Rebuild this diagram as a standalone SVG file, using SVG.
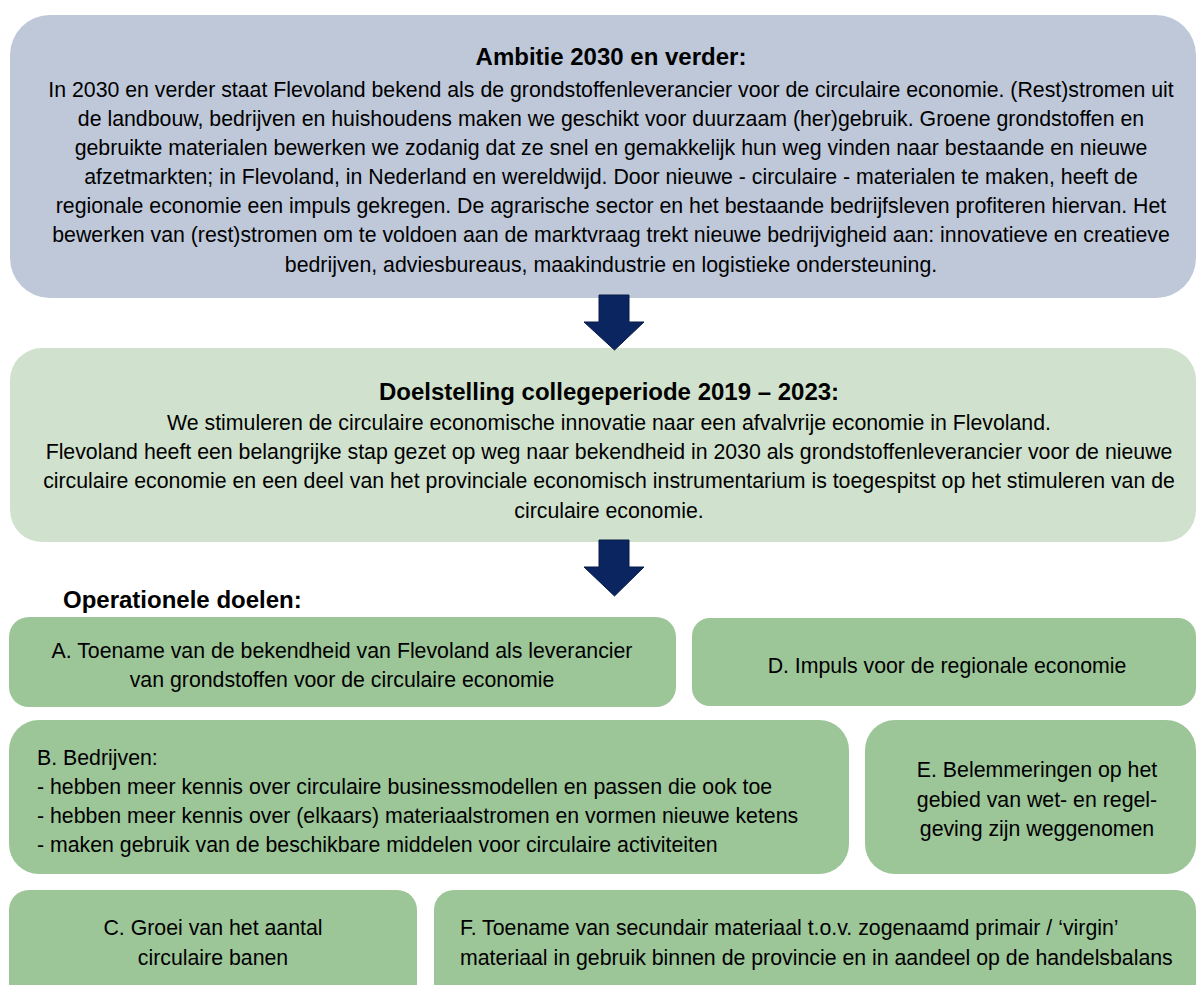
<svg xmlns="http://www.w3.org/2000/svg" width="1197" height="985" viewBox="0 0 1197 985">
<style>
text{font-family:"Liberation Sans",Arial,sans-serif;fill:#000;}
.b{font-size:21.3px;}
.t{font-size:24px;font-weight:bold;}
.c{text-anchor:middle;}
.blue{fill:#BEC8D9;}
.lg{fill:#D0E2CD;}
.g{fill:#9CC598;}
.arr{fill:#0A2560;stroke:#061A45;stroke-width:1;}
</style>
<rect width="1197" height="985" fill="#fff"/>
<g id="ambitie">
<rect class="blue" x="10" y="15" width="1186" height="283" rx="40"/>
<text class="t c" x="611" y="65">Ambitie 2030 en verder:</text>
<text class="b c" x="611" y="97">In 2030 en verder staat Flevoland bekend als de grondstoffenleverancier voor de circulaire economie. (Rest)stromen uit</text>
<text class="b c" x="611" y="126">de landbouw, bedrijven en huishoudens maken we geschikt voor duurzaam (her)gebruik. Groene grondstoffen en</text>
<text class="b c" x="611" y="155">gebruikte materialen bewerken we zodanig dat ze snel en gemakkelijk hun weg vinden naar bestaande en nieuwe</text>
<text class="b c" x="611" y="184">afzetmarkten; in Flevoland, in Nederland en wereldwijd. Door nieuwe - circulaire - materialen te maken, heeft de</text>
<text class="b c" x="611" y="213">regionale economie een impuls gekregen. De agrarische sector en het bestaande bedrijfsleven profiteren hiervan. Het</text>
<text class="b c" x="611" y="242">bewerken van (rest)stromen om te voldoen aan de marktvraag trekt nieuwe bedrijvigheid aan: innovatieve en creatieve</text>
<text class="b c" x="611" y="272">bedrijven, adviesbureaus, maakindustrie en logistieke ondersteuning.</text>
</g>
<g id="doelstelling">
<rect class="lg" x="10" y="348" width="1186" height="194" rx="32"/>
<text class="t c" x="609" y="400">Doelstelling collegeperiode 2019 – 2023:</text>
<text class="b c" x="609" y="430">We stimuleren de circulaire economische innovatie naar een afvalvrije economie in Flevoland.</text>
<text class="b c" x="609" y="459">Flevoland heeft een belangrijke stap gezet op weg naar bekendheid in 2030 als grondstoffenleverancier voor de nieuwe</text>
<text class="b c" x="609" y="488">circulaire economie en een deel van het provinciale economisch instrumentarium is toegespitst op het stimuleren van de</text>
<text class="b c" x="609" y="518">circulaire economie.</text>
</g>
<g id="operationele-label">
<text class="t" x="63" y="608">Operationele doelen:</text>
</g>
<g id="doel-a">
<rect class="g" x="9" y="617" width="667" height="90" rx="20"/>
<text class="b c" x="342" y="658">A. Toename van de bekendheid van Flevoland als leverancier</text>
<text class="b c" x="342" y="687">van grondstoffen voor de circulaire economie</text>
</g>
<g id="doel-d">
<rect class="g" x="692" y="618" width="504" height="88" rx="18"/>
<text class="b c" x="947" y="673">D. Impuls voor de regionale economie</text>
</g>
<g id="doel-b">
<rect class="g" x="9" y="720" width="840" height="154" rx="30"/>
<text class="b" x="37" y="765">B. Bedrijven:</text>
<text class="b" x="37" y="794">- hebben meer kennis over circulaire businessmodellen en passen die ook toe</text>
<text class="b" x="37" y="823">- hebben meer kennis over (elkaars) materiaalstromen en vormen nieuwe ketens</text>
<text class="b" x="37" y="852">- maken gebruik van de beschikbare middelen voor circulaire activiteiten</text>
</g>
<g id="doel-e">
<rect class="g" x="865" y="720" width="331" height="154" rx="30"/>
<text class="b c" x="1037" y="777">E. Belemmeringen op het</text>
<text class="b c" x="1037" y="807">gebied van wet- en regel-</text>
<text class="b c" x="1037" y="836">geving zijn weggenomen</text>
</g>
<g id="doel-c">
<rect class="g" x="9" y="890" width="408" height="115" rx="20"/>
<text class="b c" x="213" y="935">C. Groei van het aantal</text>
<text class="b c" x="213" y="965">circulaire banen</text>
</g>
<g id="doel-f">
<rect class="g" x="434" y="890" width="762" height="115" rx="20"/>
<text class="b" x="460" y="935">F. Toename van secundair materiaal t.o.v. zogenaamd primair / ‘virgin’</text>
<text class="b" x="460" y="965">materiaal in gebruik binnen de provincie en in aandeel op de handelsbalans</text>
</g>
<g id="connectors">
<path class="arr" d="M599,295 H629 V322 H644 L614.5,350 L584,322 H599 Z"/>
<path class="arr" d="M599,540 H629 V567 H644 L614.5,596 L584,567 H599 Z"/>
</g>
</svg>
